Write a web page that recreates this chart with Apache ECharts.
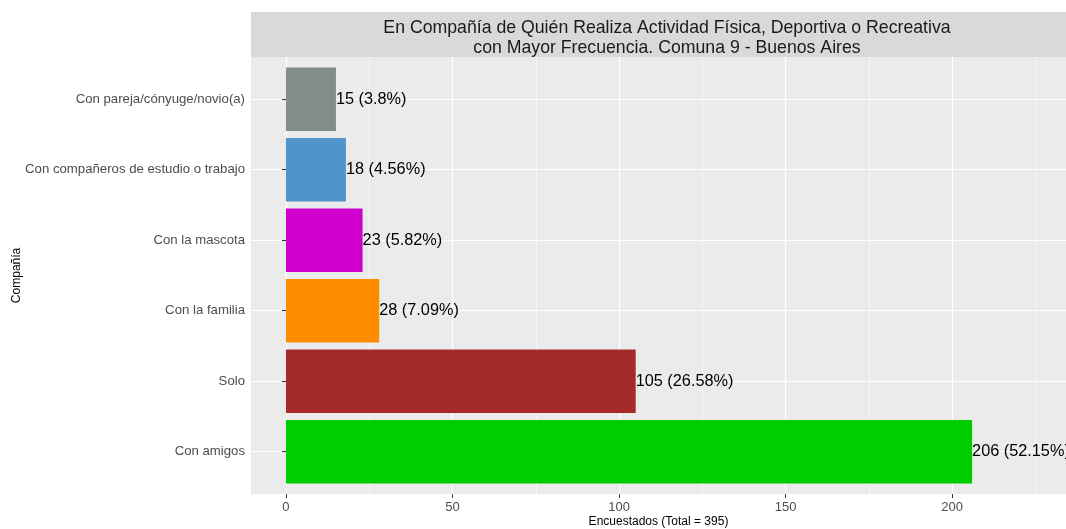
<!DOCTYPE html>
<html>
<head>
<meta charset="utf-8">
<script src="https://cdn.jsdelivr.net/npm/echarts@6/dist/echarts.min.js"></script>
<style>html,body{margin:0;padding:0;background:#fff}#c{width:1066px;height:529px}</style>
</head>
<body>
<div id="c"></div>
<script>
const categories = ['Con amigos','Solo','Con la familia','Con la mascota','Con compañeros de estudio o trabajo','Con pareja/cónyuge/novio(a)'];
const counts = [206,105,28,23,18,15];
const barColors = ['#00CD00','#A52A2A','#FF8C00','#CD00CD','#4F94CD','#838B8B'];
const total = 395;
const xMajorTicks = [0,50,100,150,200];
const xMinorTicks = [25,75,125,175,225];
const titleText = 'En Compañía de Quién Realiza Actividad Física, Deportiva o Recreativa\ncon Mayor Frecuencia. Comuna 9 - Buenos Aires';
const xTitle = 'Encuestados (Total = ' + total + ')';
const yTitle = 'Compañía';

const FONT = 'Liberation Sans, Arial, sans-serif';
const X_MIN = -10.5, X_MAX = 234.2;
const PANEL = {left: 251, top: 57, width: 815, height: 437};

const chart = echarts.init(document.getElementById('c'), null, {renderer: 'canvas'});
chart.setOption({
  animation: false,
  textStyle: {fontFamily: FONT},
  title: {
    text: titleText, left: 662, top: 13, textAlign: 'center',
    textStyle: {fontFamily: FONT, fontSize: 17.7, fontWeight: 'normal', lineHeight: 20, color: '#1A1A1A'}
  },
  graphic: [{
    type: 'rect', z: -10, silent: true,
    shape: {x: PANEL.left, y: 12, width: PANEL.width, height: 45},
    style: {fill: '#D9D9D9'}
  }],
  grid: [
    {left: PANEL.left, top: PANEL.top, width: PANEL.width, height: PANEL.height, show: true, backgroundColor: '#EBEBEB', borderWidth: 0, z: -5, outerBoundsMode: 'none', containLabel: false},
    {left: PANEL.left, top: 99.2, width: PANEL.width, height: 352.5, show: false, outerBoundsMode: 'none', containLabel: false}
  ],
  xAxis: [
    {
      gridIndex: 0, type: 'value', min: X_MIN, max: X_MAX,
      axisLine: {show: false},
      axisTick: {show: true, customValues: xMajorTicks, length: 4, lineStyle: {color: '#333333'}},
      axisLabel: {customValues: xMajorTicks, color: '#4D4D4D', fontSize: 13, margin: 7, fontFamily: FONT},
      splitLine: {show: true, lineStyle: {color: '#FFFFFF', width: 1.2}},
      name: xTitle, nameLocation: 'middle', nameGap: 22, nameMoveOverlap: false,
      nameTextStyle: {color: '#000000', fontSize: 12, fontFamily: FONT}
    },
    {
      gridIndex: 0, type: 'value', min: X_MIN, max: X_MAX, position: 'top',
      axisLine: {show: false},
      axisTick: {show: false, customValues: xMinorTicks},
      axisLabel: {show: false, customValues: xMinorTicks},
      splitLine: {show: true, lineStyle: {color: 'rgba(255,255,255,0.6)', width: 1}}
    },
    {
      gridIndex: 1, type: 'value', min: X_MIN, max: X_MAX,
      show: false
    }
  ],
  yAxis: [
    {gridIndex: 0, type: 'value', show: false},
    {
      gridIndex: 1, type: 'category', data: categories, boundaryGap: false,
      axisLine: {show: false},
      axisTick: {show: true, length: 4, lineStyle: {color: '#333333'}},
      axisLabel: {color: '#4D4D4D', fontSize: 13.2, margin: 6, fontFamily: FONT},
      splitLine: {show: true, lineStyle: {color: '#FFFFFF', width: 1.2}},
      name: yTitle, nameLocation: 'middle', nameGap: 228, nameRotate: 90, nameMoveOverlap: false,
      nameTextStyle: {color: '#000000', fontSize: 12, fontFamily: FONT}
    }
  ],
  series: [{
    type: 'bar', xAxisIndex: 2, yAxisIndex: 1, clip: false, barWidth: '90%', z: 10,
    data: counts.map((v, i) => ({value: v, itemStyle: {color: barColors[i]}})),
    label: {
      show: true, position: 'right', distance: 0, color: '#000000', fontSize: 16.3, fontFamily: FONT,
      formatter: p => p.value + ' (' + parseFloat((p.value / total * 100).toFixed(2)) + '%)'
    }
  }]
});
</script>
</body>
</html>
